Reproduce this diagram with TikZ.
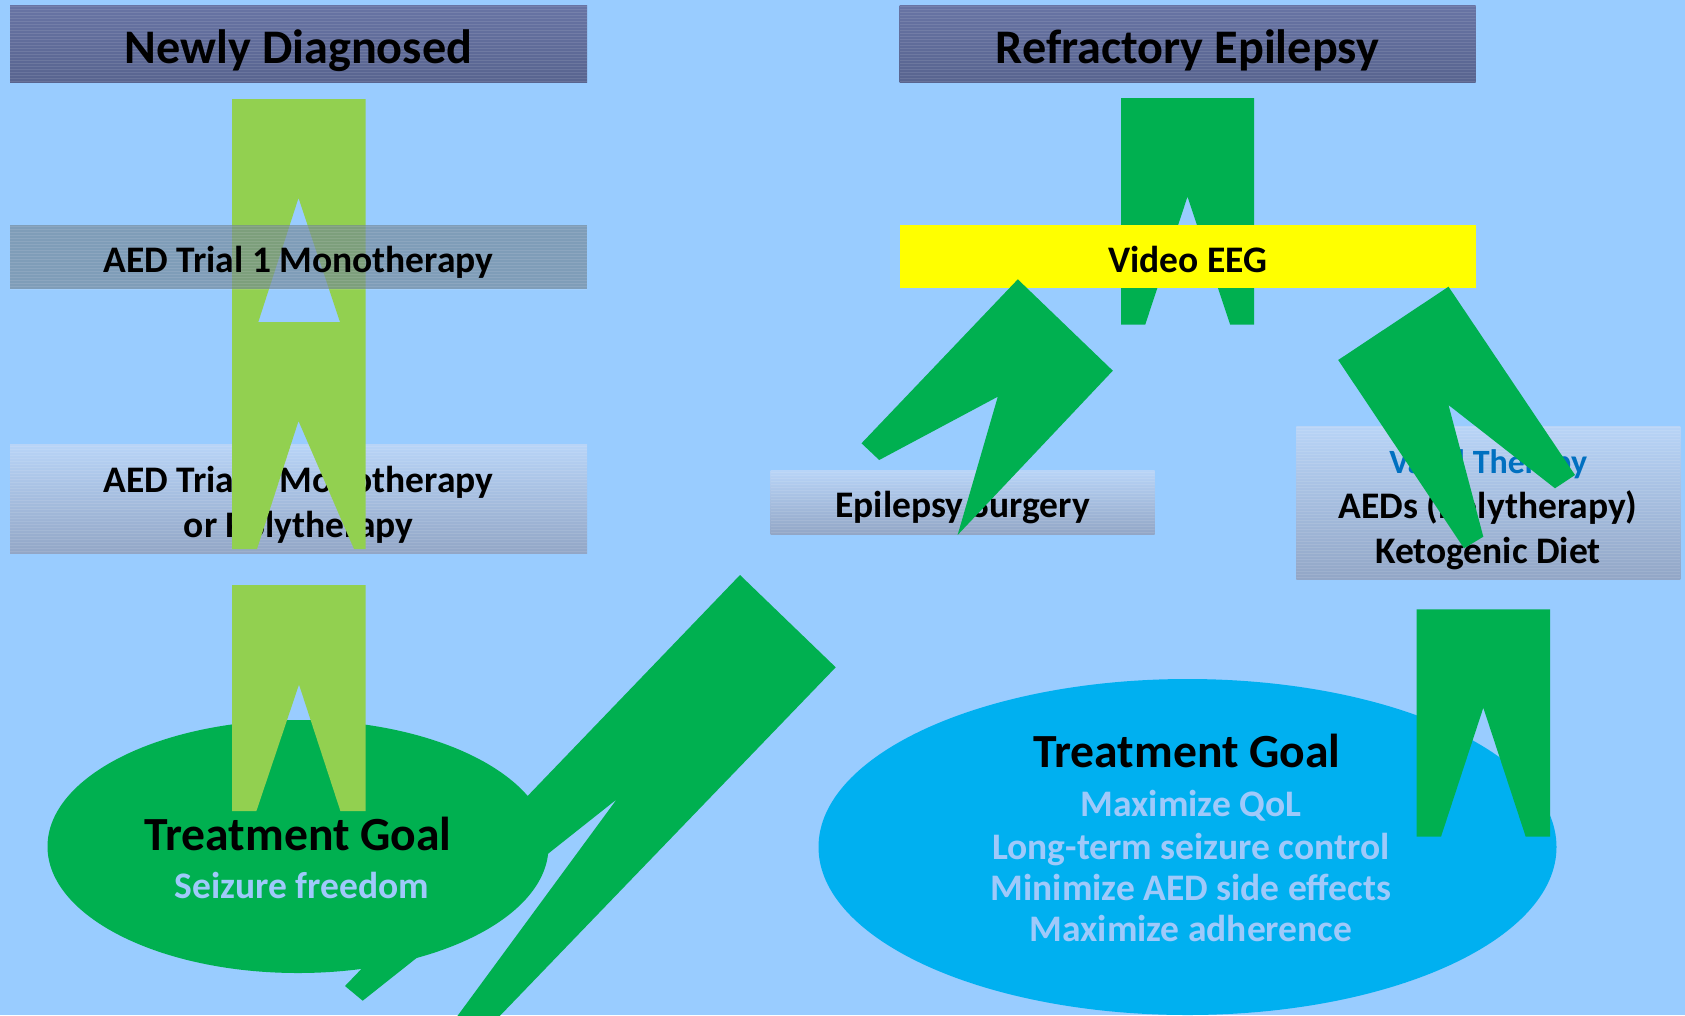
\documentclass[tikz,border=0pt]{standalone}
\usepackage{fontspec}
\setmainfont{Carlito}
\usetikzlibrary{shapes.geometric}

\definecolor{sky}{HTML}{99CCFF}
\definecolor{leaf}{HTML}{92D050}
\definecolor{grass}{HTML}{00B050}
\definecolor{ocean}{HTML}{00B0F0}
\definecolor{lemon}{HTML}{FFFF00}
\definecolor{slatetop}{HTML}{6874A4}
\definecolor{slatebot}{HTML}{58648F}
\definecolor{steel}{RGB}{115,134,148}
\definecolor{mistop}{HTML}{B8D4F7}
\definecolor{mistbot}{HTML}{92A6C6}
\definecolor{paletext}{HTML}{9FC9FA}
\definecolor{vagalblue}{HTML}{0070C0}

\tikzset{
  stripes/.style={path picture={
    \foreach \k in {1.5,4.5,...,160}
      \draw[white, opacity=0.10, line width=0.9pt]
        ([yshift=-\k pt]path picture bounding box.north west) --
        ([yshift=-\k pt]path picture bounding box.north east);
  }},
  titlebox/.style={rectangle, inner sep=0pt, top color=slatetop, bottom color=slatebot, stripes},
  greybox/.style={rectangle, inner sep=0pt, fill=steel, fill opacity=0.66, stripes},
  mistbox/.style={rectangle, inner sep=0pt, top color=mistop, bottom color=mistbot, stripes},
  eegbox/.style={rectangle, inner sep=0pt, fill=lemon},
  goal/.style={ellipse, inner sep=0pt},
  bigtxt/.style={anchor=base, inner sep=0pt, font=\fontsize{48.2}{56}\selectfont\bfseries},
  midtxt/.style={anchor=base, inner sep=0pt, font=\fontsize{47.6}{56}\selectfont\bfseries},
  smalltxt/.style={anchor=base, inner sep=0pt, font=\fontsize{37.5}{44}\selectfont\bfseries},
  tighttxt/.style={anchor=base, inner sep=0pt, font=\fontsize{34}{40}\selectfont\bfseries},
  lightbar/.style={fill=leaf},
  darkbar/.style={fill=grass},
}

\begin{document}
\begin{tikzpicture}[x=1pt, y=-1pt]
\useasboundingbox (0,0) rectangle (1685,1015);
\clip (0,0) rectangle (1685,1015);
\fill[sky] (0,0) rectangle (1685,1015);

% treatment goal ellipses
\node[goal, fill=grass, minimum width=501pt, minimum height=253pt] (goalL) at (298,846.5) {};
\node[goal, fill=ocean, minimum width=738pt, minimum height=336pt] (goalR) at (1187.5,847) {};

% stage boxes
\node[titlebox, minimum width=577pt, minimum height=77.5pt] (newdx) at (298.5,43.75) {};
\node[titlebox, minimum width=576pt, minimum height=77pt] (refr) at (1187.5,43.5) {};
\node[mistbox, minimum width=577pt, minimum height=109pt] (trial2) at (298.5,499.1) {};
\node[mistbox, minimum width=384pt, minimum height=63.6pt] (surg) at (962.65,502.5) {};
\node[mistbox, minimum width=384pt, minimum height=153.5pt] (vagal) at (1488.35,502.75) {};

\node[bigtxt] (newdxT) at (298.5,63.5) {Newly Diagnosed};
\node[bigtxt] (refrT) at (1187.5,63.5) {Refractory Epilepsy};
\node[smalltxt] (trial2a) at (298.5,492) {AED Trial 2 Monotherapy};
\node[smalltxt] (trial2b) at (298.5,537) {or Polytherapy};
\node[smalltxt] (surgT) at (962.6,517.5) {Epilepsy Surgery};
\node[tighttxt, text=vagalblue] (vagalA) at (1488.3,473) {Vagal Therapy};
\node[smalltxt] (vagalB) at (1488,518.8) {AEDs (Polytherapy)};
\node[smalltxt] (vagalC) at (1488,563.5) {Ketogenic Diet};

% left column notched bars
\fill[lightbar] (232,99) -- (365.5,99) -- (365.5,322) -- (340,322) -- (298.5,198)
  -- (258.3,322) -- (232,322) -- cycle;
\fill[lightbar] (232,322) -- (365.5,322) -- (365.5,549) -- (354,549) -- (298.5,421)
  -- (257,549) -- (232,549) -- cycle;

\node[greybox, minimum width=577pt, minimum height=63.6pt] (trial1) at (298.5,257.2) {};
\node[smalltxt] (trial1T) at (298.5,272.5) {AED Trial 1 Monotherapy};

% right column bar under the Video EEG box
\fill[darkbar] (1121,98) -- (1254,98) -- (1254,324.7) -- (1230.2,324.7) -- (1187.5,196.6)
  -- (1145.2,324.7) -- (1121,324.7) -- cycle;
\node[eegbox, minimum width=576pt, minimum height=63.7pt] (eeg) at (1187.5,256.45) {};
\node[smalltxt] (eegT) at (1187.5,272.2) {Video EEG};

% branches from Video EEG
\fill[darkbar] (1017.8,279.3) -- (1112.8,370.7) -- (957.6,535) -- (997.8,396.7)
  -- (879.2,460) -- (861.5,443.3) -- cycle;
\fill[darkbar] (1448.5,286.7) -- (1575,475) -- (1555,488.3) -- (1448.5,405)
  -- (1483.3,536.7) -- (1464,548.3) -- (1338.2,360) -- cycle;

% bars into the goals
\fill[lightbar] (232,585) -- (365.5,585) -- (365.5,811) -- (340.4,811) -- (299,684.5)
  -- (256.4,811) -- (232,811) -- cycle;
\fill[darkbar] (1416.7,609.3) -- (1550,609.3) -- (1550,836.7) -- (1525.7,836.7)
  -- (1483.3,707.7) -- (1441,836.7) -- (1416.7,836.7) -- cycle;
\fill[darkbar] (740,575) -- (835.7,667.3) -- (440,1078) -- (423.6,1062) -- (616.7,799.3)
  -- (362.7,1000.7) -- (345,986) -- cycle;

% goal texts
\node[midtxt] (goalLT) at (298,850.8) {Treatment Goal};
\node[smalltxt, text=paletext] (goalL1) at (302,898.5) {Seizure freedom};
\node[midtxt] (goalRT) at (1187,767.5) {Treatment Goal};
\node[smalltxt, text=paletext] (goalR1) at (1191,816.5) {Maximize QoL};
\node[smalltxt, text=paletext] (goalR2) at (1191,859.5) {Long-term seizure control};
\node[smalltxt, text=paletext] (goalR3) at (1191,900) {Minimize AED side effects};
\node[smalltxt, text=paletext] (goalR4) at (1191,941) {Maximize adherence};
\end{tikzpicture}
\end{document}
